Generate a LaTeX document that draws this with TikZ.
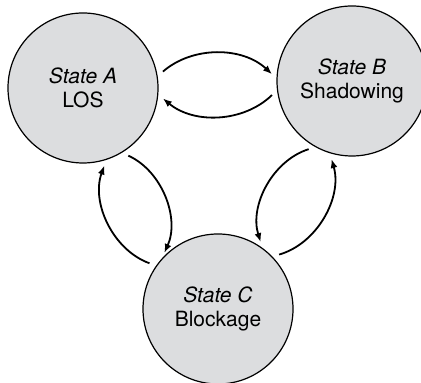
\documentclass[tikz,border=0pt]{standalone}
\usepackage{fontspec}
\setmainfont{TeX Gyre Heros}
\usetikzlibrary{arrows.meta}
\definecolor{stategray}{RGB}{220,221,223}
\begin{document}
\begin{tikzpicture}[x=0.5pt,y=0.5pt,
		state/.style={circle, draw, line width=0.6pt, fill=stategray, minimum size=75pt, inner sep=0pt, align=center, font=\fontsize{10.5}{12}\selectfont},
		trans/.style={-{Latex[length=4.5pt,width=3.5pt]}, line width=0.9pt, shorten <=3.5pt, shorten >=3pt}]
		\useasboundingbox (0,0) rectangle (421,383);
		\node[state] (stateA) at (83,295) {\textit{State A}\\LOS};
		\node[state] (stateB) at (352,302) {\textit{State B}\\Shadowing};
		\node[state] (stateC) at (218,74) {\textit{State C}\\Blockage};
		\draw[trans] (stateA.9) to[bend left=42] (stateB.178);
		\draw[trans] (stateB.187) to[bend left=42] (stateA.355);
		\draw[trans] (stateA.301) to[bend left=45] (stateC.138);
		\draw[trans] (stateC.145) to[bend left=45] (stateA.288);
		\draw[trans] (stateB.241) to[bend right=45] (stateC.54);
		\draw[trans] (stateC.44) to[bend right=45] (stateB.253);
	\end{tikzpicture}
\end{document}
